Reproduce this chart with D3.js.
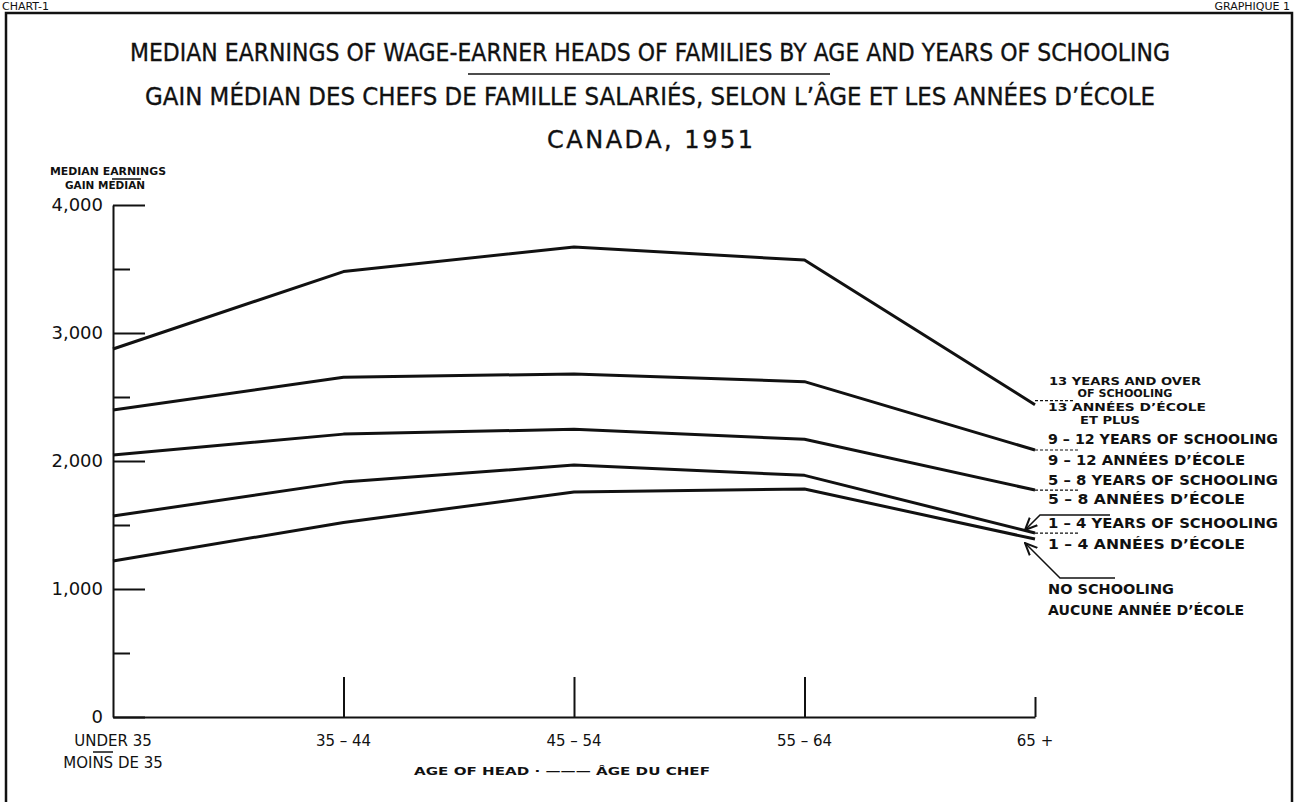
<!DOCTYPE html>
<meta charset="utf-8">
<head>
  <style>
    body { margin: 0; background: #fff; }
    svg { display: block; }
    text { font-family: "DejaVu Sans", sans-serif; fill: #111; }
    .series { fill: none; stroke: #111; stroke-width: 3px; stroke-linejoin: round; }
    .axis path, .axis line { stroke: #111; stroke-width: 2px; }
    .leader { stroke: #111; stroke-width: 1.2px; stroke-dasharray: 3 2; }
    .mark { stroke: #111; stroke-width: 1.5px; fill: none; }
    .title { stroke: #111; stroke-width: 0.35px; }
  </style>
  <script src="https://d3js.org/d3.v7.min.js"></script>
</head>
<body>
  <svg width="1303" height="802"></svg>
  <script>
    // data
    var ages = ["UNDER 35", "35 – 44", "45 – 54", "55 – 64", "65 +"];
    var schooling13 = [2875, 3480, 3672, 3570, 2440];
    var schooling912 = [2398, 2655, 2680, 2620, 2086];
    var schooling58 = [2047, 2210, 2248, 2170, 1773];
    var schooling14 = [1570, 1835, 1969, 1888, 1437];
    var noSchooling = [1219, 1520, 1758, 1781, 1390];
    var yTicks = [0, 500, 1000, 1500, 2000, 2500, 3000, 3500, 4000];

    var series = [schooling13, schooling912, schooling58, schooling14, noSchooling];

    var svg = d3.select("svg");

    var x = d3.scalePoint().domain(ages).range([113, 1035]);
    var y = d3.scaleLinear().domain([0, 4000]).range([717, 205]);

    // frame
    svg.append("rect")
      .attr("x", 6).attr("y", 13).attr("width", 1286).attr("height", 800)
      .attr("fill", "none").attr("stroke", "#111").attr("stroke-width", 2.5);

    svg.append("text").attr("x", 2).attr("y", 10).attr("font-size", 11).text("CHART-1");
    svg.append("text").attr("x", 1290).attr("y", 10).attr("font-size", 11)
      .attr("text-anchor", "end").text("GRAPHIQUE 1");

    // titles
    var titles = [
      {t: "MEDIAN EARNINGS OF WAGE-EARNER HEADS OF FAMILIES BY AGE AND YEARS OF SCHOOLING", y: 61, w: 1040, adj: "spacingAndGlyphs"},
      {t: "GAIN MÉDIAN DES CHEFS DE FAMILLE SALARIÉS, SELON L’ÂGE ET LES ANNÉES D’ÉCOLE", y: 105, w: 1010, adj: "spacingAndGlyphs"},
      {t: "CANADA, 1951", y: 148, w: 206, adj: "spacing"}
    ];
    svg.selectAll(".title").data(titles).enter().append("text")
      .attr("class", "title")
      .attr("x", 650).attr("y", function(d) { return d.y; })
      .attr("text-anchor", "middle")
      .attr("font-size", 24)
      .attr("textLength", function(d) { return d.w; })
      .attr("lengthAdjust", function(d) { return d.adj; })
      .text(function(d) { return d.t; });
    svg.append("line").attr("class", "mark").attr("x1", 468).attr("x2", 830).attr("y1", 74).attr("y2", 74);

    // y axis title
    svg.append("text").attr("x", 108).attr("y", 175).attr("text-anchor", "middle")
      .attr("font-size", 11).attr("font-weight", "bold").attr("textLength", 116)
      .attr("lengthAdjust", "spacingAndGlyphs").text("MEDIAN EARNINGS");
    svg.append("text").attr("x", 105).attr("y", 189).attr("text-anchor", "middle")
      .attr("font-size", 11).attr("font-weight", "bold").attr("textLength", 80)
      .attr("lengthAdjust", "spacingAndGlyphs").text("GAIN MEDIAN");
    svg.append("line").attr("class", "mark").attr("x1", 112).attr("x2", 141).attr("y1", 179).attr("y2", 179);

    // y axis: ticks inside, labels outside
    var yAxisTicks = svg.append("g").attr("class", "axis")
      .attr("transform", "translate(113,0)")
      .call(d3.axisRight(y).tickValues(yTicks).tickSizeOuter(0).tickFormat(""));
    yAxisTicks.selectAll(".tick line")
      .attr("x2", function(d) { return d % 1000 === 0 ? 32 : 17; });

    var yLabels = svg.append("g")
      .attr("transform", "translate(103,0)")
      .call(d3.axisLeft(y).tickValues(yTicks.filter(function(d) { return d % 1000 === 0; }))
        .tickSize(0).tickPadding(0).tickFormat(d3.format(",")));
    yLabels.select(".domain").remove();
    yLabels.selectAll("text").attr("font-size", 18).attr("font-family", "DejaVu Sans")
      .attr("fill", "#111");

    // x axis
    var xAxis = svg.append("g").attr("class", "axis")
      .attr("transform", "translate(0,717)")
      .call(d3.axisTop(x).tickSizeOuter(0).tickFormat(""));
    xAxis.selectAll(".tick line")
      .attr("y2", function(d, i) { return i === 0 ? 0 : (i === ages.length - 1 ? -20 : -40); });

    svg.selectAll(".xlab").data(ages).enter().append("text")
      .attr("class", "xlab")
      .attr("x", function(d) { return x(d); })
      .attr("y", 746)
      .attr("text-anchor", "middle")
      .attr("font-size", 15)
      .text(function(d) { return d; });
    svg.append("text").attr("x", x(ages[0])).attr("y", 768).attr("text-anchor", "middle")
      .attr("font-size", 15).text("MOINS DE 35");
    svg.append("line").attr("class", "mark").attr("x1", 93).attr("x2", 113).attr("y1", 752).attr("y2", 752);

    svg.append("text").attr("x", 562).attr("y", 775).attr("text-anchor", "middle")
      .attr("font-size", 11).attr("font-weight", "bold")
      .attr("textLength", 296).attr("lengthAdjust", "spacingAndGlyphs")
      .text("AGE OF HEAD · ——— ÂGE DU CHEF");

    // series lines
    var line = d3.line()
      .x(function(d, i) { return x(ages[i]); })
      .y(function(d) { return y(d); });

    svg.selectAll(".series").data(series).enter().append("path")
      .attr("class", "series")
      .attr("d", line);

    // labels on the right
    var lx = 1048;
    var labels = [
      {t: "13 YEARS AND OVER", x: 1125, y: 385, a: "middle", w: 152},
      {t: "OF SCHOOLING", x: 1125, y: 397, a: "middle", w: 95},
      {t: "13 ANNÉES D’ÉCOLE", x: lx, y: 411, a: "start", w: 158},
      {t: "ET PLUS", x: 1110, y: 424, a: "middle", w: 60},
      {t: "9 – 12 YEARS OF SCHOOLING", x: lx, y: 444, a: "start", w: 230},
      {t: "9 – 12 ANNÉES D’ÉCOLE", x: lx, y: 465, a: "start", w: 197},
      {t: "5 – 8 YEARS OF SCHOOLING", x: lx, y: 485, a: "start", w: 230},
      {t: "5 – 8 ANNÉES D’ÉCOLE", x: lx, y: 504, a: "start", w: 197},
      {t: "1 – 4 YEARS OF SCHOOLING", x: lx, y: 528, a: "start", w: 230},
      {t: "1 – 4 ANNÉES D’ÉCOLE", x: lx, y: 549, a: "start", w: 197},
      {t: "NO SCHOOLING", x: lx, y: 594, a: "start", w: 126},
      {t: "AUCUNE ANNÉE D’ÉCOLE", x: lx, y: 615, a: "start", w: 196}
    ];
    svg.selectAll(".lab").data(labels).enter().append("text")
      .attr("class", "lab")
      .attr("x", function(d) { return d.x; })
      .attr("y", function(d) { return d.y; })
      .attr("text-anchor", function(d) { return d.a; })
      .attr("font-size", function(d) { return d.y < 430 ? 11 : 13.5; })
      .attr("font-weight", "bold")
      .attr("textLength", function(d) { return d.w; })
      .attr("lengthAdjust", "spacingAndGlyphs")
      .text(function(d) { return d.t; });

    // dashed leaders from line ends to labels
    var leaders = [
      {s: schooling13, x2: 1075, dy: -4},
      {s: schooling912, x2: 1080, dy: 0},
      {s: schooling58, x2: 1080, dy: 0},
      {s: schooling14, x2: 1080, dy: 0}
    ];
    svg.selectAll(".leader").data(leaders).enter().append("line")
      .attr("class", "leader")
      .attr("x1", x(ages[4]))
      .attr("x2", function(d) { return d.x2; })
      .attr("y1", function(d) { return y(d.s[4]) + d.dy; })
      .attr("y2", function(d) { return y(d.s[4]) + d.dy; });

    // arrows pointing to the two lowest lines
    svg.append("defs").append("marker")
      .attr("id", "arrow").attr("viewBox", "0 0 10 10")
      .attr("refX", 9).attr("refY", 5)
      .attr("markerWidth", 9).attr("markerHeight", 9)
      .attr("orient", "auto-start-reverse")
      .append("path").attr("d", "M0,1 L9,5 L0,9").attr("fill", "none")
      .attr("stroke", "#111").attr("stroke-width", 1.5);

    svg.append("path").attr("class", "mark")
      .attr("d", "M1110," + 515 + " L1040,515 L" + (x(ages[4]) - 10) + "," + (y(schooling14[4]) - 3))
      .attr("marker-end", "url(#arrow)");
    svg.append("path").attr("class", "mark")
      .attr("d", "M1115,578 L1060,578 L" + (x(ages[4]) - 10) + "," + (y(noSchooling[4]) + 4))
      .attr("marker-end", "url(#arrow)");
  </script>
</body>
